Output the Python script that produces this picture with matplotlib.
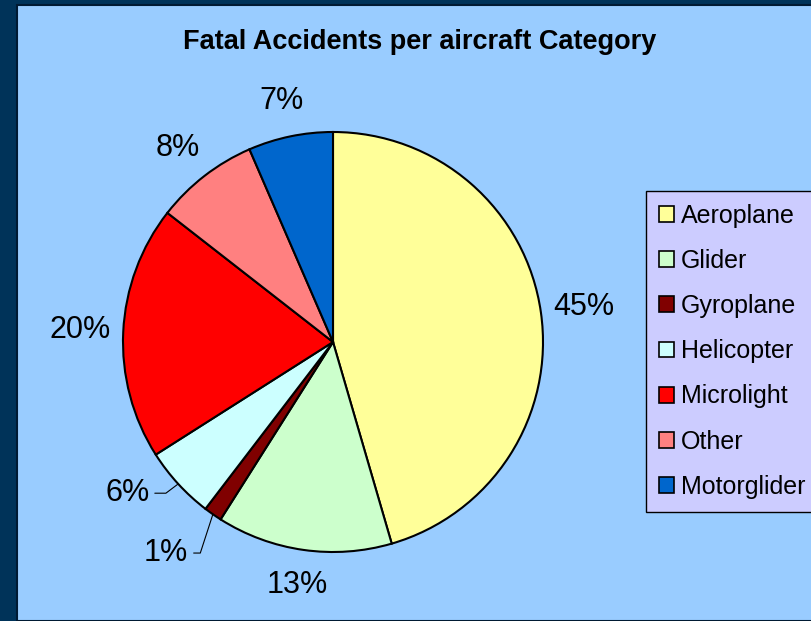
import matplotlib
matplotlib.use('Agg')
from matplotlib import pyplot as plt
from matplotlib.patches import Rectangle, Patch
import numpy as np

plt.rcParams['font.family'] = ['Liberation Sans', 'DejaVu Sans']

# data
categories = ['Aeroplane', 'Glider', 'Gyroplane', 'Helicopter',
              'Microlight', 'Other', 'Motorglider']
shares = [45.49, 13.5, 1.4, 5.6, 19.55, 7.95, 6.51]
colors = ['#FFFF99', '#CCFFCC', '#800000', '#CCFFFF',
          '#FF0000', '#FF8080', '#0066CC']

W, H = 811, 621
fig = plt.figure(figsize=(W / 100, H / 100), dpi=100, facecolor='#003359')

# light blue chart area
fig.patches.append(Rectangle((17 / W, 0), 1, 1 - 5 / H, transform=fig.transFigure,
                             facecolor='#99CCFF', edgecolor='#001a33', lw=1.5,
                             zorder=-5))

fig.text(420 / W, 1 - 42 / H, 'Fatal Accidents per aircraft Category',
         ha='center', va='center', fontsize=19.5, fontweight='bold')

# pie axes: centre (333, 342), radius 210 px
cx, cy, r = 333, 342, 210
ax = fig.add_axes([(cx - r) / W, (H - cy - r) / H, 2 * r / W, 2 * r / H])
ax.set_axis_off()
ax.set_zorder(1)

wedges, texts, autotexts = ax.pie(
    shares, colors=colors, startangle=90, counterclock=False, radius=1,
    autopct='%.0f%%', pctdistance=1.17,
    wedgeprops=dict(edgecolor='black', linewidth=1.5),
    textprops=dict(fontsize=22))
ax.set_xlim(-1, 1)
ax.set_ylim(-1, 1)
ax.set_aspect('equal')

# Excel-style: left/right labels sit a bit further out than top/bottom ones
for i, t in enumerate(autotexts):
    x, y = t.get_position()
    t.set_position((x * 1.03, y))

# small slices get leader lines
for i, (tx, ty, angB) in {2: (-0.69, -1.005, 72), 3: (-0.875, -0.72, 37)}.items():
    w = wedges[i]
    mid = np.deg2rad((w.theta1 + w.theta2) / 2)
    autotexts[i].set_visible(False)
    ax.annotate(autotexts[i].get_text(), xy=(np.cos(mid), np.sin(mid)),
                xytext=(tx, ty), ha='right', va='center', fontsize=22,
                arrowprops=dict(arrowstyle='-', color='black', lw=0.8,
                                shrinkA=2, shrinkB=0,
                                connectionstyle='angle,angleA=0,angleB=%d' % angB))

handles = [Patch(facecolor=c, edgecolor='black', lw=1.2) for c in colors]
leg = fig.legend(handles, categories, loc='upper left',
                 bbox_to_anchor=(646 / W, 1 - 191 / H), bbox_transform=fig.transFigure,
                 fontsize=18, frameon=True, fancybox=False, framealpha=1,
                 facecolor='#CCCCFF', edgecolor='black',
                 handlelength=0.6, handleheight=0.6, handletextpad=0.3,
                 borderpad=0.5, labelspacing=0.85, borderaxespad=0)
leg.get_frame().set_linewidth(1)
leg.set_zorder(2)

fig.savefig('out.png', dpi=100, facecolor=fig.get_facecolor())
